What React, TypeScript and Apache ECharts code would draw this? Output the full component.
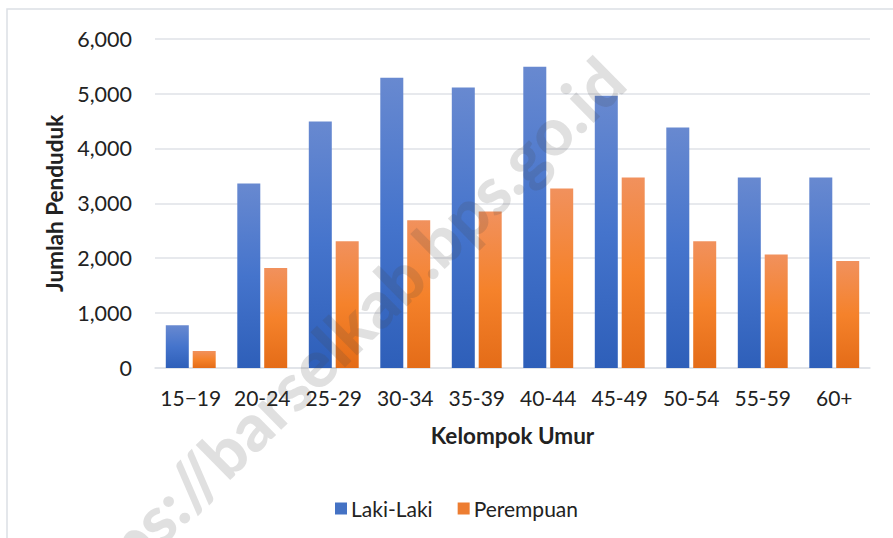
import React, { useEffect, useRef } from "react";
import * as echarts from "echarts";

const categories = ["15−19", "20-24", "25-29", "30-34", "35-39", "40-44", "45-49", "50-54", "55-59", "60+"];
const lakiLaki = [780, 3360, 4490, 5290, 5110, 5490, 4960, 4380, 3470, 3470];
const perempuan = [310, 1820, 2310, 2690, 2850, 3270, 3470, 2310, 2070, 1950];
const yTicks = [0, 1000, 2000, 3000, 4000, 5000, 6000];
const seriesNames = ["Laki-Laki", "Perempuan"];
const watermark = "https://barselkab.bps.go.id";

const FONT = "Lato, 'Noto Sans', sans-serif";

export default function App() {
  const ref = useRef<HTMLDivElement>(null);
  useEffect(() => {
    if (!ref.current) return;
    const chart = echarts.init(ref.current, null, { renderer: "svg" });
    const blueGrad = new echarts.graphic.LinearGradient(0, 0, 0, 1, [
      { offset: 0, color: "#6889D0" },
      { offset: 0.5, color: "#4574CC" },
      { offset: 1, color: "#2E5FB9" },
    ]);
    const orangeGrad = new echarts.graphic.LinearGradient(0, 0, 0, 1, [
      { offset: 0, color: "#F1915D" },
      { offset: 0.5, color: "#F5822B" },
      { offset: 1, color: "#E46C18" },
    ]);
    const gridColor = "#DFE2E7";
    chart.setOption({
      animation: false,
      backgroundColor: "#ffffff",
      textStyle: { fontFamily: FONT },
      grid: { left: 155, right: 23, top: 38.7, bottom: 170, containLabel: false },
      legend: {
        left: 330,
        top: 493,
        itemWidth: 12,
        itemHeight: 12,
        itemGap: 25,
        icon: "rect",
        textStyle: { fontFamily: FONT, fontSize: 21, color: "#222", padding: [0, 0, 0, -1] },
        data: [
          { name: seriesNames[0], itemStyle: { color: "#4472C4" } },
          { name: seriesNames[1], itemStyle: { color: "#ED7D31" } },
        ],
      },
      xAxis: {
        type: "category",
        data: categories,
        name: "Kelompok Umur",
        nameLocation: "middle",
        nameGap: 56,
        nameTextStyle: { fontFamily: FONT, fontSize: 22.5, fontWeight: "bold", color: "#222" },
        axisLine: { show: true, lineStyle: { color: gridColor, width: 1.5 } },
        axisTick: { show: false },
        axisLabel: { fontFamily: FONT, fontSize: 21, color: "#222", margin: 19, interval: 0 },
      },
      yAxis: {
        type: "value",
        min: yTicks[0],
        max: yTicks[yTicks.length - 1],
        interval: 1000,
        name: "Jumlah Penduduk",
        nameLocation: "middle",
        nameGap: 84,
        nameRotate: 90,
        nameTextStyle: { fontFamily: FONT, fontSize: 22.5, fontWeight: "bold", color: "#222" },
        axisLine: { show: false },
        axisTick: { show: false },
        splitLine: { show: true, lineStyle: { color: gridColor, width: 1.5 } },
        axisLabel: {
          fontFamily: FONT,
          fontSize: 21.5,
          color: "#222",
          margin: 23,
          formatter: (v: number) => v.toLocaleString("en-US"),
        },
      },
      series: [
        {
          name: seriesNames[0],
          type: "bar",
          data: lakiLaki,
          barWidth: 23,
          barGap: "17%",
          itemStyle: { color: blueGrad },
        },
        {
          name: seriesNames[1],
          type: "bar",
          data: perempuan,
          barWidth: 23,
          barGap: "17%",
          itemStyle: { color: orangeGrad },
        },
      ],
      graphic: [
        {
          type: "rect",
          silent: true,
          shape: { x: 7, y: 9, width: 1000, height: 700 },
          style: { fill: "none", stroke: "#DCE0E5", lineWidth: 1.5 },
          z: -1,
        },
        {
          type: "text",
          silent: true,
          x: 612,
          y: 69,
          rotation: (44.5 * Math.PI) / 180,
          z: 100,
          style: {
            text: watermark,
            fontFamily: "Lato, 'Noto Sans', sans-serif",
            fontWeight: 900,
            fontSize: 66,
            fill: "rgba(70,70,70,0.17)",
            align: "right",
            verticalAlign: "middle",
          },
        },
      ],
    });
    return () => chart.dispose();
  }, []);
  return (
    <div
      ref={ref}
      style={{ position: "fixed", left: 0, top: 0, width: "893px", height: "538px" }}
    />
  );
}
